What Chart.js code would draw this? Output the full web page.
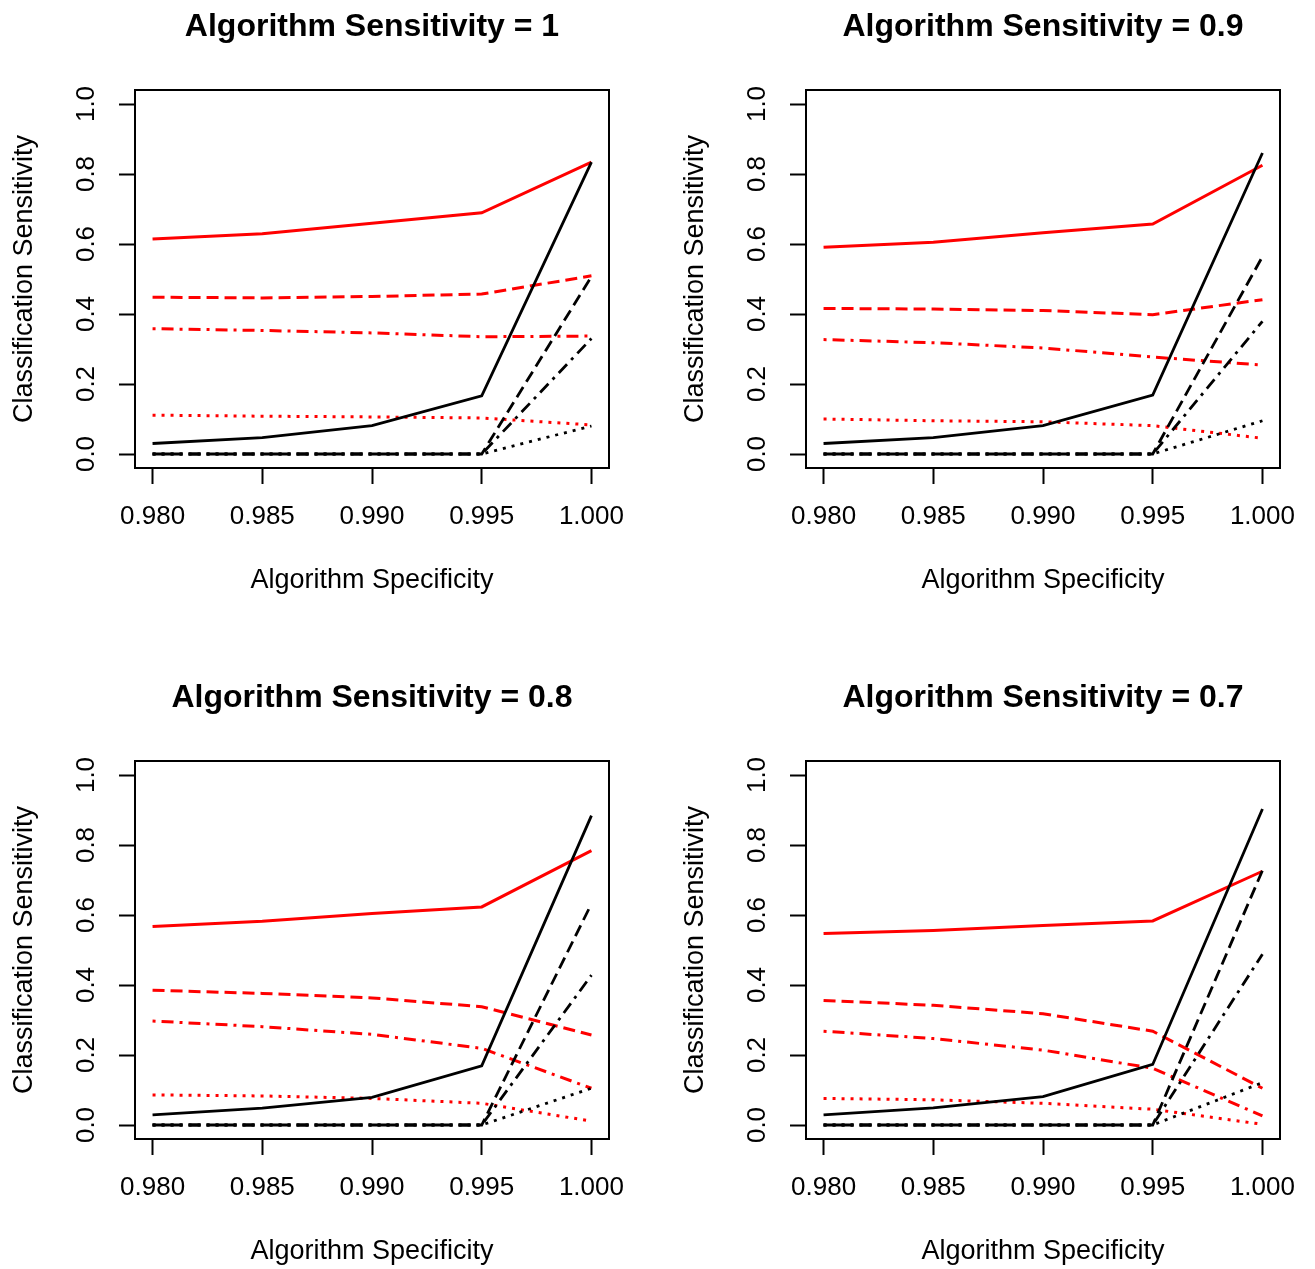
<!DOCTYPE html>
<html>
<head>
<meta charset="utf-8">
<script src="https://cdn.jsdelivr.net/npm/chart.js@4.4.0/dist/chart.umd.min.js"></script>
<style>
  html, body { margin: 0; padding: 0; background: #ffffff; overflow: hidden; }
  #wrap { position: relative; width: 1315px; height: 1269px; overflow: hidden; background: #fff; }
  #wrap canvas { position: absolute; }
</style>
</head>
<body>
<div id="wrap">
  <canvas id="c0" width="671" height="671" style="left:0px;top:0px;width:671px;height:671px"></canvas>
  <canvas id="c1" width="671" height="671" style="left:671px;top:0px;width:671px;height:671px"></canvas>
  <canvas id="c2" width="671" height="671" style="left:0px;top:671px;width:671px;height:671px"></canvas>
  <canvas id="c3" width="671" height="671" style="left:671px;top:671px;width:671px;height:671px"></canvas>
</div>
<script>
// ---- data ----
const specificity = [0.980, 0.985, 0.990, 0.995, 1.000];
const xTickLabels = ['0.980', '0.985', '0.990', '0.995', '1.000'];
const yTickValues = [0, 0.2, 0.4, 0.6, 0.8, 1.0];
const yTickLabels = ['0.0', '0.2', '0.4', '0.6', '0.8', '1.0'];
const panelTitles = ['Algorithm Sensitivity = 1', 'Algorithm Sensitivity = 0.9',
                     'Algorithm Sensitivity = 0.8', 'Algorithm Sensitivity = 0.7'];
const xTitle = 'Algorithm Specificity';
const yTitle = 'Classification Sensitivity';

// one row per panel (sensitivity 1, 0.9, 0.8, 0.7), one value per specificity
const redSolid = [
  [0.614, 0.629, 0.659, 0.689, 0.834],
  [0.591, 0.605, 0.632, 0.657, 0.825],
  [0.567, 0.582, 0.604, 0.623, 0.784],
  [0.547, 0.556, 0.570, 0.583, 0.725]
];
const redDashed = [
  [0.448, 0.446, 0.450, 0.457, 0.509],
  [0.416, 0.414, 0.410, 0.398, 0.441],
  [0.385, 0.376, 0.363, 0.338, 0.257],
  [0.356, 0.342, 0.318, 0.268, 0.105]
];
const redDotDash = [
  [0.358, 0.353, 0.346, 0.335, 0.337],
  [0.327, 0.318, 0.303, 0.277, 0.254],
  [0.297, 0.281, 0.259, 0.219, 0.105],
  [0.268, 0.247, 0.214, 0.162, 0.026]
];
const redDotted = [
  [0.111, 0.108, 0.106, 0.103, 0.083],
  [0.100, 0.095, 0.092, 0.081, 0.045],
  [0.086, 0.083, 0.076, 0.062, 0.011],
  [0.076, 0.072, 0.062, 0.045, 0.002]
];
const blackSolid = [
  [0.030, 0.047, 0.081, 0.166, 0.834],
  [0.030, 0.047, 0.081, 0.168, 0.860],
  [0.029, 0.048, 0.079, 0.169, 0.884],
  [0.029, 0.049, 0.081, 0.173, 0.903]
];
const blackDashed = [
  [0, 0, 0, 0, 0.507],
  [0, 0, 0, 0, 0.564],
  [0, 0, 0, 0, 0.632],
  [0, 0, 0, 0, 0.727]
];
const blackDotDash = [
  [0, 0, 0, 0, 0.330],
  [0, 0, 0, 0, 0.379],
  [0, 0, 0, 0, 0.428],
  [0, 0, 0, 0, 0.488]
];
const blackDotted = [
  [0, 0, 0, 0, 0.080],
  [0, 0, 0, 0, 0.095],
  [0, 0, 0, 0, 0.105],
  [0, 0, 0, 0, 0.121]
];

// ---- styling ----
const FONT = "'Liberation Sans', Arial, Helvetica, sans-serif";
const DASH = { solid: [], dashed: [12, 6], dotdash: [3, 6, 12, 6], dotted: [3, 6] };

function pts(arr) { return specificity.map((x, i) => ({ x: x, y: arr[i] })); }

function ds(arr, color, dash, width) {
  return {
    data: pts(arr),
    borderColor: color,
    backgroundColor: color,
    borderDash: dash,
    borderWidth: width,
    pointRadius: 0,
    pointHoverRadius: 0,
    tension: 0,
    fill: false,
    borderCapStyle: 'butt'
  };
}

// R-style box around the plot region, and the main title centred over it
const boxPlugin = {
  id: 'rbox',
  afterDatasetsDraw(chart) {
    const a = chart.chartArea, ctx = chart.ctx;
    ctx.save();
    ctx.strokeStyle = '#000';
    ctx.lineWidth = 2;
    ctx.strokeRect(a.left, a.top, a.right - a.left, a.bottom - a.top);
    ctx.restore();
  },
  afterDraw(chart, args, opts) {
    const a = chart.chartArea, ctx = chart.ctx;
    ctx.save();
    ctx.fillStyle = '#000';
    ctx.font = 'bold 32px ' + FONT;
    ctx.textAlign = 'center';
    ctx.textBaseline = 'alphabetic';
    ctx.fillText(opts.text, (a.left + a.right) / 2, 36);
    ctx.restore();
  }
};

function makeChart(id, p) {
  const datasets = [
    ds(blackSolid[p], '#000000', DASH.solid, 2.8),
    ds(blackDashed[p], '#000000', DASH.dashed, 2.8),
    ds(blackDotDash[p], '#000000', DASH.dotdash, 2.8),
    ds(blackDotted[p], '#000000', DASH.dotted, 2.8),
    ds(redSolid[p], '#ff0000', DASH.solid, 3),
    ds(redDashed[p], '#ff0000', DASH.dashed, 3),
    ds(redDotDash[p], '#ff0000', DASH.dotdash, 3),
    ds(redDotted[p], '#ff0000', DASH.dotted, 3)
  ];
  return new Chart(document.getElementById(id), {
    type: 'line',
    data: { datasets: datasets },
    plugins: [boxPlugin],
    options: {
      responsive: false,
      animation: false,
      events: [],
      layout: { padding: { left: 0, right: 62, top: 90, bottom: 0 } },
      plugins: {
        legend: { display: false },
        tooltip: { enabled: false },
        title: { display: false },
        rbox: { text: panelTitles[p] }
      },
      scales: {
        x: {
          type: 'linear',
          min: 0.9792,
          max: 1.0008,
          afterBuildTicks(scale) { scale.ticks = specificity.map(v => ({ value: v })); },
          afterFit(scale) { scale.height = 203; },
          ticks: {
            autoSkip: false,
            maxRotation: 0,
            minRotation: 0,
            padding: 17,
            color: '#000',
            font: { family: FONT, size: 26, lineHeight: 1.2 },
            callback(value, index) { return xTickLabels[index]; }
          },
          grid: { drawOnChartArea: false, drawTicks: true, tickLength: 16, tickWidth: 2, tickColor: '#000' },
          border: { display: false },
          title: {
            display: true,
            text: xTitle,
            color: '#000',
            font: { family: FONT, size: 27, lineHeight: 1.2 },
            padding: { top: 0, bottom: 73.8 }
          }
        },
        y: {
          type: 'linear',
          min: -0.04,
          max: 1.04,
          afterBuildTicks(scale) { scale.ticks = yTickValues.map(v => ({ value: v })); },
          afterFit(scale) { scale.width = 135; },
          ticks: {
            autoSkip: false,
            minRotation: 90,
            maxRotation: 90,
            crossAlign: 'center',
            padding: 14.5,
            color: '#000',
            font: { family: FONT, size: 26, lineHeight: 1.2 },
            callback(value, index) { return yTickLabels[index]; }
          },
          grid: { drawOnChartArea: false, drawTicks: true, tickLength: 16, tickWidth: 2, tickColor: '#000' },
          border: { display: false },
          title: {
            display: true,
            text: yTitle,
            color: '#000',
            font: { family: FONT, size: 27, lineHeight: 1.2 },
            padding: { top: 8.8, bottom: 0 }
          }
        }
      }
    }
  });
}

makeChart('c0', 0);
makeChart('c1', 1);
makeChart('c2', 2);
makeChart('c3', 3);
</script>
</body>
</html>
